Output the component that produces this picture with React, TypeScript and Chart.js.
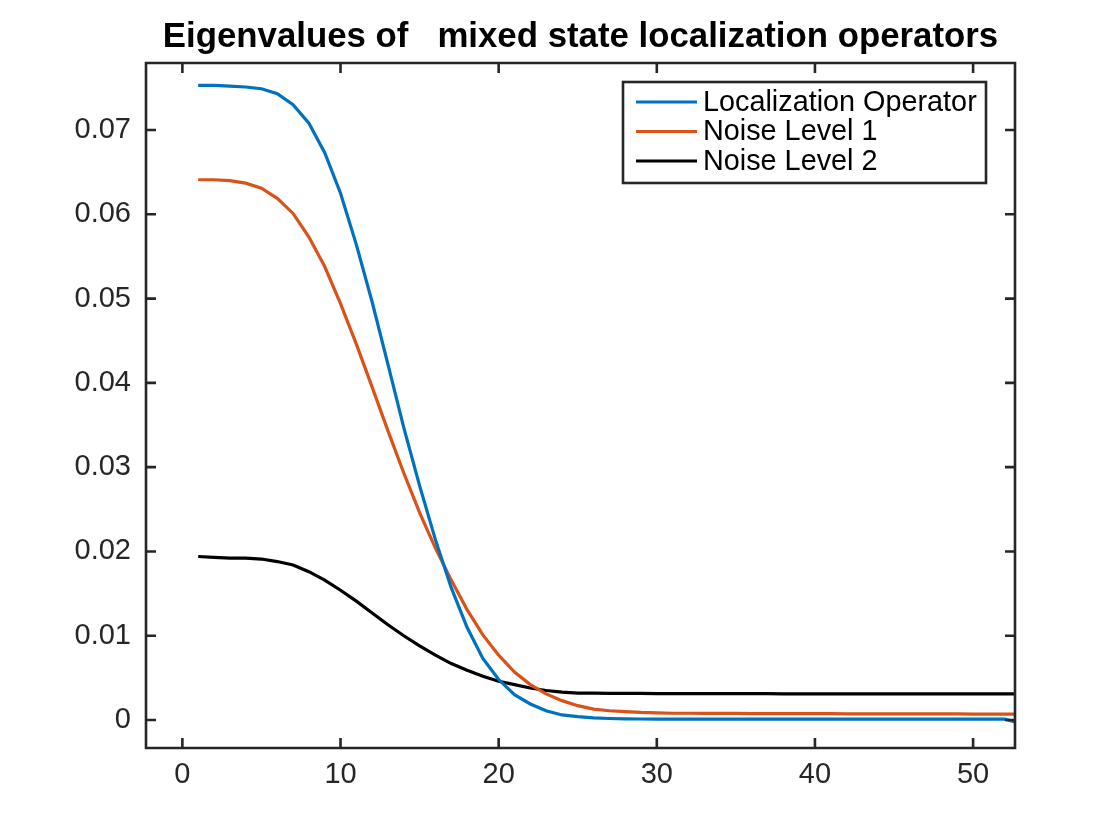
import React, { useEffect, useRef } from "react";
import { Chart, registerables } from "chart.js";

Chart.register(...registerables);

const TITLE = "Eigenvalues of   mixed state localization operators";

const xIndex = [
  1, 2, 3, 4, 5, 6, 7, 8, 9, 10, 11, 12, 13, 14, 15, 16, 17, 18, 19, 20,
  21, 22, 23, 24, 25, 26, 27, 28, 29, 30, 31, 32, 33, 34, 35, 36, 37, 38, 39, 40,
  41, 42, 43, 44, 45, 46, 47, 48, 49, 50, 51, 52, 53,
];

const localizationOperator = [
  0.0753, 0.0753, 0.0752, 0.0751, 0.0749, 0.0743, 0.073, 0.0708, 0.0673, 0.0625,
  0.0564, 0.0496, 0.0422, 0.0347, 0.0278, 0.0214, 0.0157, 0.011, 0.0073, 0.0048,
  0.003, 0.0019, 0.0011, 0.0006, 0.0004, 0.00025, 0.00018, 0.00014, 0.00012, 0.0001,
  0.0001, 0.0001, 0.0001, 0.0001, 0.0001, 0.0001, 0.0001, 0.0001, 0.0001, 0.0001,
  0.0001, 0.0001, 0.0001, 0.0001, 0.0001, 0.0001, 0.0001, 0.0001, 0.0001, 0.0001,
  0.0001, 0.0001, -0.0004,
];

const noiseLevel1 = [
  0.0641, 0.0641, 0.064, 0.0637, 0.0631, 0.0619, 0.0601, 0.0573, 0.0538, 0.0494,
  0.0446, 0.0395, 0.0343, 0.0293, 0.0246, 0.0204, 0.0166, 0.0131, 0.0101, 0.0077,
  0.0057, 0.0042, 0.0031, 0.0023, 0.0017, 0.0013, 0.0011, 0.001, 0.0009, 0.00085,
  0.0008, 0.0008, 0.00079, 0.00078, 0.00078, 0.00077, 0.00077, 0.00076, 0.00076, 0.00075,
  0.00075, 0.00074, 0.00074, 0.00073, 0.00073, 0.00073, 0.00072, 0.00072, 0.00072, 0.00071,
  0.00071, 0.00071, 0.0007,
];

const noiseLevel2 = [
  0.0194, 0.0193, 0.0192, 0.0192, 0.0191, 0.0188, 0.0184, 0.0176, 0.0166, 0.0154,
  0.0141, 0.0127, 0.0113, 0.01, 0.0088, 0.0077, 0.0067, 0.0059, 0.0052, 0.0046,
  0.0042, 0.0038, 0.0035, 0.0033, 0.0032, 0.00318, 0.00316, 0.00315, 0.00315, 0.00314,
  0.00314, 0.00313, 0.00313, 0.00313, 0.00312, 0.00312, 0.00312, 0.00311, 0.00311, 0.00311,
  0.00311, 0.0031, 0.0031, 0.0031, 0.0031, 0.0031, 0.0031, 0.0031, 0.0031, 0.0031,
  0.0031, 0.0031, 0.0031,
];

const seriesLabels = ["Localization Operator", "Noise Level 1", "Noise Level 2"];
const seriesColors = ["#0072BD", "#D95319", "#000000"];

const xTickValues = [0, 10, 20, 30, 40, 50];
const yTickValues = [0, 0.01, 0.02, 0.03, 0.04, 0.05, 0.06, 0.07];

const X_MIN = -2.3;
const X_MAX = 52.65;
const Y_MIN = -0.00332;
const Y_MAX = 0.07795;

const AXIS_COLOR = "#262626";
const FONT = "'Liberation Sans', Arial, Helvetica, sans-serif";

const axesBoxPlugin = {
  id: "axesBox",
  afterDatasetsDraw(chart: any) {
    const { ctx, chartArea, scales } = chart;
    const { left, right, top, bottom } = chartArea;
    const tl = 10;
    ctx.save();
    ctx.strokeStyle = AXIS_COLOR;
    ctx.lineWidth = 2.6;
    ctx.lineCap = "butt";
    ctx.beginPath();
    ctx.rect(left, top, right - left, bottom - top);
    ctx.stroke();
    ctx.beginPath();
    scales.x.ticks.forEach((t: any) => {
      const px = scales.x.getPixelForValue(t.value);
      ctx.moveTo(px, bottom);
      ctx.lineTo(px, bottom - tl);
      ctx.moveTo(px, top);
      ctx.lineTo(px, top + tl);
    });
    scales.y.ticks.forEach((t: any) => {
      const py = scales.y.getPixelForValue(t.value);
      ctx.moveTo(left, py);
      ctx.lineTo(left + tl, py);
      ctx.moveTo(right, py);
      ctx.lineTo(right - tl, py);
    });
    ctx.stroke();
    ctx.restore();
  },
  afterDraw(chart: any) {
    const { ctx, chartArea } = chart;
    const boxRight = chartArea.right - 29;
    const boxTop = chartArea.top + 19;
    const boxW = 363;
    const boxH = 101;
    const boxLeft = boxRight - boxW;
    ctx.save();
    ctx.fillStyle = "#ffffff";
    ctx.fillRect(boxLeft, boxTop, boxW, boxH);
    ctx.strokeStyle = AXIS_COLOR;
    ctx.lineWidth = 2.6;
    ctx.strokeRect(boxLeft, boxTop, boxW, boxH);
    ctx.font = `28.8px ${FONT}`;
    ctx.textBaseline = "middle";
    ctx.textAlign = "left";
    chart.data.datasets.forEach((ds: any, i: number) => {
      const cy = boxTop + 20 + i * 29.5;
      ctx.strokeStyle = ds.borderColor;
      ctx.lineWidth = 3;
      ctx.beginPath();
      ctx.moveTo(boxLeft + 13, cy);
      ctx.lineTo(boxLeft + 74, cy);
      ctx.stroke();
      ctx.fillStyle = "#000000";
      ctx.fillText(ds.label, boxLeft + 80, cy + 1);
    });
    ctx.restore();
  },
};

export default function App() {
  const canvasRef = useRef<HTMLCanvasElement>(null);

  useEffect(() => {
    if (!canvasRef.current) return;
    const seriesValues = [localizationOperator, noiseLevel1, noiseLevel2];
    const chart = new Chart(canvasRef.current, {
      type: "line",
      data: {
        datasets: seriesValues.map((vals, i) => ({
          label: seriesLabels[i],
          data: vals.map((v, j) => ({ x: xIndex[j], y: v })),
          borderColor: seriesColors[i],
          backgroundColor: seriesColors[i],
          borderWidth: 3.2,
          pointRadius: 0,
          tension: 0,
          fill: false,
          clip: 0,
        })),
      },
      options: {
        animation: false,
        responsive: false,
        devicePixelRatio: 1,
        layout: { padding: { left: 0, right: 105, top: 0, bottom: 0 } },
        plugins: {
          legend: { display: false },
          tooltip: { enabled: false },
          title: {
            display: true,
            text: TITLE,
            fullSize: false,
            color: "#000000",
            font: { family: FONT, size: 34.8, weight: "bold", lineHeight: 1.2 },
            padding: { top: 17, bottom: 4.24 },
          },
        },
        scales: {
          x: {
            type: "linear",
            min: X_MIN,
            max: X_MAX,
            grid: { display: false, drawTicks: false },
            border: { display: false },
            afterBuildTicks: (scale: any) => {
              scale.ticks = xTickValues.map((v) => ({ value: v }));
            },
            afterFit: (scale: any) => {
              scale.height = 92;
            },
            ticks: {
              color: AXIS_COLOR,
              font: { family: FONT, size: 29 },
              padding: 10,
              maxRotation: 0,
              autoSkip: false,
              callback: (v: any) => String(v),
            },
          },
          y: {
            type: "linear",
            min: Y_MIN,
            max: Y_MAX,
            grid: { display: false, drawTicks: false },
            border: { display: false },
            afterBuildTicks: (scale: any) => {
              scale.ticks = yTickValues.map((v) => ({ value: v }));
            },
            afterFit: (scale: any) => {
              scale.width = 146;
            },
            ticks: {
              color: AXIS_COLOR,
              font: { family: FONT, size: 29 },
              padding: 15,
              autoSkip: false,
              callback: (v: any) => (Number(v) === 0 ? "0" : Number(v).toFixed(2)),
            },
          },
        },
      },
      plugins: [axesBoxPlugin],
    });
    return () => chart.destroy();
  }, []);

  return (
    <div style={{ position: "absolute", left: 0, top: 0, width: 1120, height: 840, background: "#ffffff" }}>
      <canvas ref={canvasRef} width={1120} height={840} />
    </div>
  );
}
